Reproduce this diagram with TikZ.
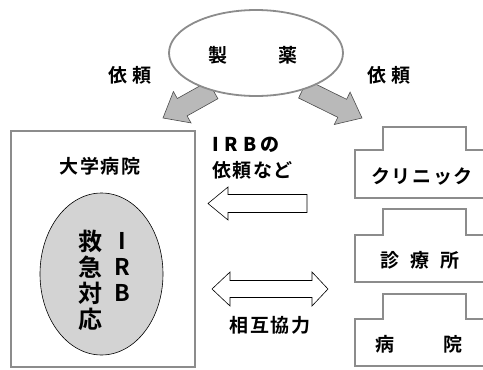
\documentclass[tikz,border=0pt]{standalone}
\usepackage{fontspec}
\usetikzlibrary{shapes.geometric}
\setmainfont{Noto Sans CJK JP}[BoldFont={* Bold}]
\newfontfamily\jpsp{Noto Sans CJK JP}[BoldFont={* Bold},LetterSpace=8]
\definecolor{edgegray}{RGB}{140,140,140}
\definecolor{arrowgray}{RGB}{185,185,185}
\definecolor{ovalgray}{RGB}{211,211,211}
\begin{document}
\begin{tikzpicture}[x=1pt,y=-1pt,
  lbl/.style={font=\jpsp\bfseries\fontsize{19}{19}\selectfont,inner sep=0pt},
  biglbl/.style={font=\bfseries\fontsize{24}{24}\selectfont,inner sep=0pt},
  latlbl/.style={font=\bfseries\fontsize{23}{23}\selectfont,inner sep=0pt},
  fatarrow/.style={fill=arrowgray,draw=black!70,line width=0.6pt,line join=miter},
  hollow/.style={fill=white,draw=black,line width=0.6pt},
  building/.style={fill=white,draw=edgegray,line width=1.6pt}]
\useasboundingbox (0,0) rectangle (483,370);
% fat gray arrows
\draw[fatarrow] (217.9,98.7) -- (187.1,115.9) -- (191,122.9) -- (163,118) -- (173.4,91.5) -- (177.3,98.5) -- (208.1,81.3) -- cycle;
\draw[fatarrow] (298.6,98) -- (337.8,117.3) -- (334.3,124.5) -- (362,118) -- (350.1,92.1) -- (346.6,99.3) -- (307.4,80) -- cycle;
% pharma ellipse
\node[draw=edgegray,line width=1.8pt,fill=white,ellipse,minimum width=174pt,minimum height=86pt,inner sep=0pt] (pharma) at (256,53) {};
\node[lbl] (sei) at (218,55) {製};
\node[lbl] (yaku) at (288,55) {薬};
\node[lbl] (reqL) at (130,75) {依\hspace{5pt}頼};
\node[lbl] (reqR) at (389,75) {依\hspace{5pt}頼};
% university hospital
\draw[edgegray,line width=1.6pt] (11,131) rectangle (195,367);
\node[lbl] (univ) at (100,166) {大学病院};
\node[draw=black,line width=0.6pt,fill=ovalgray,ellipse,minimum width=123pt,minimum height=162pt,inner sep=0pt] (irb) at (101.5,274) {};
\node[biglbl] (k1) at (90,241) {救};
\node[biglbl] (k2) at (90,267) {急};
\node[biglbl] (k3) at (90,293) {対};
\node[biglbl] (k4) at (90,319) {応};
\node[latlbl] (i1) at (122,241) {I};
\node[latlbl] (i2) at (122,267) {R};
\node[latlbl] (i3) at (122,293) {B};
% middle texts
\node[lbl,anchor=west] (t1) at (212,145) {\fontspec{Noto Sans CJK JP}[LetterSpace=30]IRB\hspace{4pt}\bfseries の};
\node[lbl,anchor=west] (t2) at (212,170) {依頼など};
\node[lbl] (coop) at (270,325) {相互協力};
% hollow arrows
\draw[hollow] (208,203.5) -- (228,187) -- (228,194.5) -- (307,194.5) -- (307,212.5) -- (228,212.5) -- (228,220) -- cycle;
\draw[hollow] (212,289) -- (230,272) -- (230,280.5) -- (312,280.5) -- (312,272) -- (328,289) -- (312,306) -- (312,297.5) -- (230,297.5) -- (230,306) -- cycle;
% buildings
\draw[building] (490,198) -- (355,198) -- (355,150) -- (383,150) -- (383,127) -- (466,127) -- (466,150) -- (490,150);
\node[lbl] (clinic) at (422,177) {クリニック};
\draw[building] (490,282) -- (355,282) -- (355,235) -- (383,235) -- (383,209) -- (466,209) -- (466,235) -- (490,235);
\node[lbl] (s1) at (390,260) {診};
\node[lbl] (s2) at (420,260) {療};
\node[lbl] (s3) at (450,260) {所};
\draw[building] (490,366) -- (355,366) -- (355,319) -- (383,319) -- (383,294) -- (466,294) -- (466,319) -- (490,319);
\node[lbl] (b1) at (385,344) {病};
\node[lbl] (b2) at (453,344) {院};
\end{tikzpicture}
\end{document}
